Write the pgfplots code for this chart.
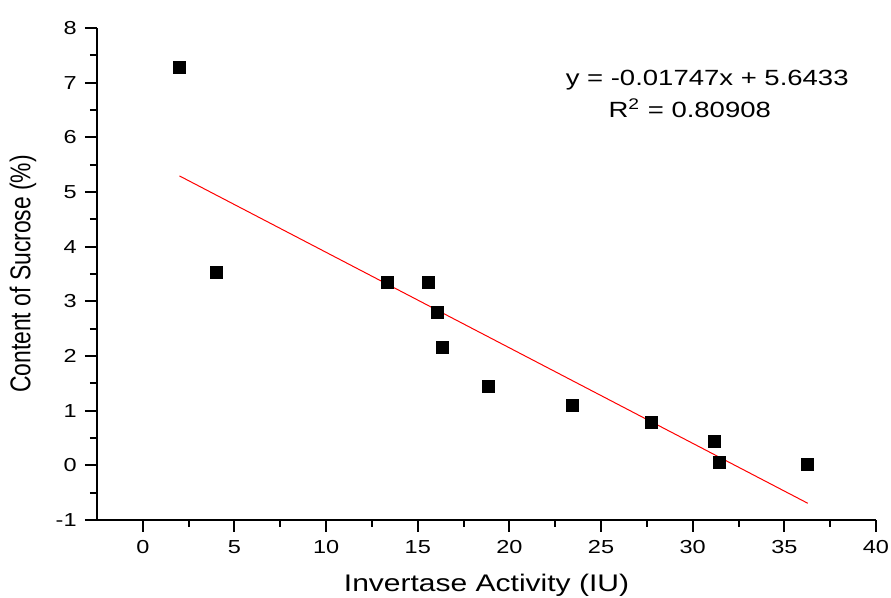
\documentclass[border=0pt]{standalone}
\usepackage{fontspec}
\setmainfont{Liberation Sans}[FakeStretch=1.25]
\newfontfamily\ylabfont{Liberation Sans}
\usepackage{pgfplots}
\pgfplotsset{compat=1.18}

\begin{document}
\begin{tikzpicture}
\begin{axis}[
    scale only axis,
    width=389.5pt, height=246pt,
    xmin=-2.5, xmax=40,
    ymin=-1, ymax=8,
    axis x line=bottom, axis y line=left,
    axis line style={-, line width=1pt},
    tick align=outside,
    major tick length=6pt, minor tick length=3.5pt,
    every tick/.style={black, line width=1pt},
    xtick={0,5,...,40}, ytick={-1,0,...,8},
    minor x tick num=1, minor y tick num=1,
    /pgf/number format/assume math mode=true,
    tick label style={font=\fontsize{9.4}{11}\selectfont},
    xticklabel style={inner sep=0pt, anchor=north, yshift=-4pt},
    yticklabel style={inner sep=0pt, anchor=east, xshift=-4pt},
    xlabel={Invertase Activity (IU)},
    ylabel={\scalebox{1}[1.25]{\ylabfont Content of Sucrose (\%)}},
    xlabel style={font=\fontsize{12}{14}\selectfont, at={(axis description cs:0.5,-0.1457)}, anchor=base},
    ylabel style={font=\fontsize{11.45}{13}\selectfont, at={(axis description cs:-0.0950,0.5)}, anchor=center},
    clip=false,
]
\addplot[only marks, mark=square*, mark size=3pt, black] coordinates {
    (2.00, 7.28)
    (4.00, 3.53)
    (13.35, 3.34)
    (15.58, 3.34)
    (16.07, 2.80)
    (16.37, 2.16)
    (18.88, 1.44)
    (23.46, 1.09)
    (27.77, 0.79)
    (31.17, 0.44)
    (31.48, 0.05)
    (36.28, 0.02)
};
\addplot[red, line width=0.5pt] coordinates {(2.0, 5.2939) (36.28, -0.6946)};
\node[anchor=base, font=\fontsize{11}{13}\selectfont] at (axis cs:30.79,6.95) {y = -0.01747x + 5.6433};
\node[anchor=base, font=\fontsize{11}{13}\selectfont] at (axis cs:29.84,6.37) {R\textsuperscript{2} = 0.80908};
\end{axis}
\pgfresetboundingbox
\path[use as bounding box] ([xshift=-48.5pt,yshift=-39pt]current axis.south west) rectangle ([xshift=7.5pt,yshift=14pt]current axis.north east);
\end{tikzpicture}
\end{document}
